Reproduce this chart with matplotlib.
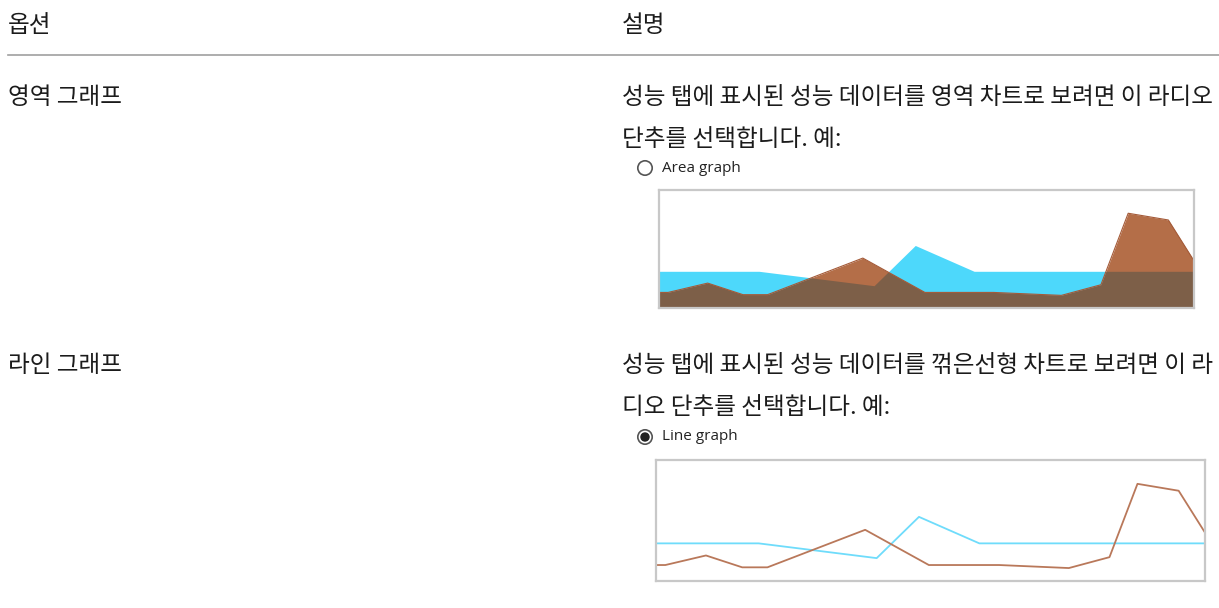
import numpy as np
import matplotlib.pyplot as plt
from matplotlib.patches import Circle

plt.rcParams['font.family'] = ['Noto Sans CJK KR', 'DejaVu Sans']

# --- data (normalised 0-100 on both axes) ---
brown_x = [0, 1.7, 9.1, 15.7, 20.3, 38.1, 49.7, 62.5, 75.2, 82.6, 87.7, 95.2, 100]
brown_y = [13.2, 13.2, 21.1, 11.3, 11.3, 42.3, 13.2, 13.2, 10.7, 19.7, 80.3, 74.6, 40.0]
blue_x = [0, 18.7, 40.2, 47.9, 58.9, 100]
blue_y = [31.1, 31.1, 18.9, 53.0, 31.1, 31.1]

headers = ["옵션", "설명"]
options = ["영역 그래프", "라인 그래프"]
descs = [["성능 탭에 표시된 성능 데이터를 영역 차트로 보려면 이 라디오", "단추를 선택합니다. 예:"],
         ["성능 탭에 표시된 성능 데이터를 꺾은선형 차트로 보려면 이 라", "디오 단추를 선택합니다. 예:"]]
radio_labels = ["Area graph", "Line graph"]

W, H = 1219, 608
TXT = "#1b1b1b"
CYAN = "#4dd8fb"
BROWN = "#b46e48"
OVER = "#7d5f48"

fig = plt.figure(figsize=(W / 100, H / 100), dpi=100)
bg = fig.add_axes([0, 0, 1, 1])
bg.set_xlim(0, W); bg.set_ylim(H, 0); bg.axis("off")

fs = 17
bg.text(8, 25, headers[0], fontsize=fs, color=TXT, va="center")
bg.text(622, 25, headers[1], fontsize=fs, color=TXT, va="center")
bg.plot([8, W], [55, 55], color="#a0a0a0", lw=1.2)

row_y = [97, 366]
for i in range(2):
    y = row_y[i]
    bg.text(8, y, options[i], fontsize=fs, color=TXT, va="center")
    bg.text(622, y, descs[i][0], fontsize=fs, color=TXT, va="center")
    bg.text(622, y + 42, descs[i][1], fontsize=fs, color=TXT, va="center")
    ry = y + 71
    bg.add_patch(Circle((645, ry), 7.2, fill=False, ec="#555555", lw=1.2))
    if i == 1:
        bg.add_patch(Circle((645, ry), 4, color="#222222"))
    bg.text(662, ry, radio_labels[i], fontsize=11, color="#222222", va="center",
            family=["Open Sans", "DejaVu Sans"])


def box_axes(x0, y0, x1, y1):
    ax = fig.add_axes([x0 / W, 1 - y1 / H, (x1 - x0) / W, (y1 - y0) / H])
    ax.set_xlim(0, 100); ax.set_ylim(0, 100)
    ax.set_xticks([]); ax.set_yticks([])
    for s in ax.spines.values():
        s.set_color("#c8c8c8"); s.set_linewidth(1.6)
    return ax


# area graph
ax1 = box_axes(659, 190, 1194, 308)
xg = np.linspace(0, 100, 2001)
bg_b = np.interp(xg, brown_x, brown_y)
bg_c = np.interp(xg, blue_x, blue_y)
ax1.fill_between(blue_x, 0, blue_y, color=CYAN, lw=0)
ax1.fill_between(brown_x, 0, brown_y, color=BROWN, lw=0)
ax1.fill_between(xg, 0, np.minimum(bg_b, bg_c), color=OVER, lw=0)
ax1.plot(brown_x, brown_y, color="#a45a38", lw=0.8)

# line graph
ax2 = box_axes(656, 460, 1205, 581)
ax2.plot(blue_x, blue_y, color="#6fdcfb", lw=1.3)
ax2.plot(brown_x, brown_y, color="#b9785a", lw=1.3)

fig.savefig("out.png", dpi=100)
